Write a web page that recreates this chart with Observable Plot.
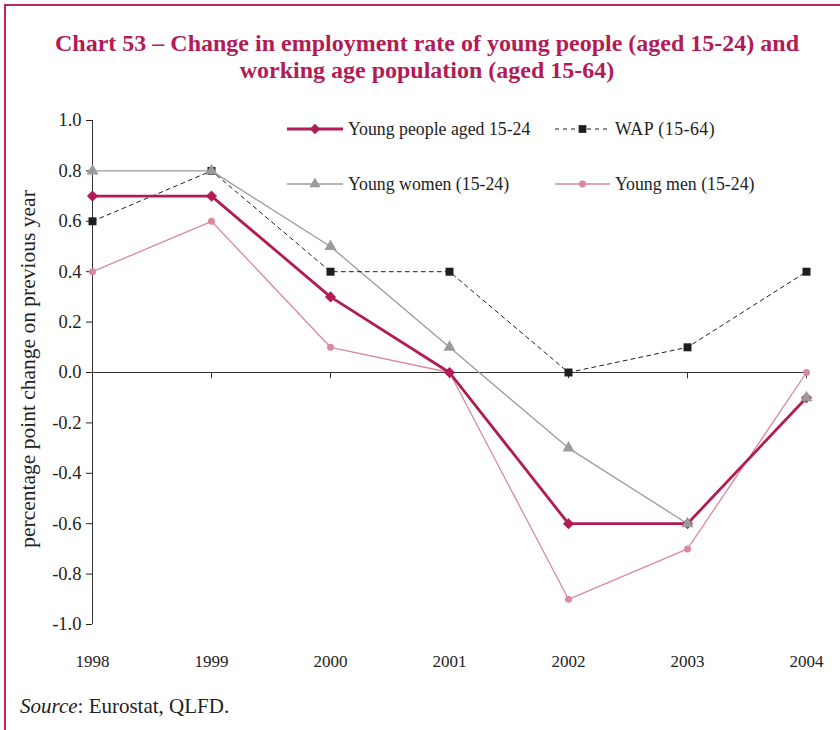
<!DOCTYPE html>
<html>
<head>
<meta charset="utf-8">
<script src="https://cdn.jsdelivr.net/npm/d3@7"></script>
<script src="https://cdn.jsdelivr.net/npm/@observablehq/plot@0.6"></script>
<style>
  html, body { margin: 0; padding: 0; background: #fff; }
  #page { position: relative; width: 840px; height: 730px; overflow: hidden; font-family: "Liberation Serif", "Times New Roman", serif; }
  #frameTop { position: absolute; left: 4px; top: 4px; width: 840px; height: 0; border-top: 2px solid #b8285e; }
  #frameLeft { position: absolute; left: 4px; top: 4px; width: 0; height: 730px; border-left: 2px solid #b8285e; }
  #title { position: absolute; left: 7px; top: 30px; width: 840px; text-align: center; color: #b31b55; font-weight: bold; font-size: 24px; line-height: 27px; }
  #chart { position: absolute; left: 0; top: 100px; }
  #ylabel { position: absolute; left: 28px; top: 369px; transform: translate(-50%, -50%) rotate(-90deg); white-space: nowrap; font-size: 21.5px; color: #222; }
  #source { position: absolute; left: 20px; top: 694px; font-size: 21px; color: #222; }
  .leg { position: absolute; display: flex; align-items: center; font-size: 17.8px; color: #222; white-space: nowrap; }
  .leg svg { margin-right: 5px; }
</style>
</head>
<body>
<div id="page">
  <div id="frameTop"></div>
  <div id="frameLeft"></div>
  <div id="title">Chart 53 – Change in employment rate of young people (aged 15-24) and<br>working age population (aged 15-64)</div>
  <div id="chart"></div>
  <div id="ylabel">percentage point change on previous year</div>
  <div id="source"><i>Source</i>: Eurostat, QLFD.</div>
  <div id="legend"></div>
</div>
<script>
const years = [1998, 1999, 2000, 2001, 2002, 2003, 2004];
const youngPeople = [0.7, 0.7, 0.3, 0.0, -0.6, -0.6, -0.1];
const wap = [0.6, 0.8, 0.4, 0.4, 0.0, 0.1, 0.4];
const youngWomen = [0.8, 0.8, 0.5, 0.1, -0.3, -0.6, -0.1];
const youngMen = [0.4, 0.6, 0.1, 0.0, -0.9, -0.7, 0.0];
const yTicks = [1.0, 0.8, 0.6, 0.4, 0.2, 0.0, -0.2, -0.4, -0.6, -0.8, -1.0];
const seriesNames = ["Young people aged 15-24", "WAP (15-64)", "Young women (15-24)", "Young men (15-24)"];

const rows = (vals) => years.map((y, i) => ({year: y, value: vals[i]}));
const dPeople = rows(youngPeople), dWap = rows(wap), dWomen = rows(youngWomen), dMen = rows(youngMen);

const C = {people: "#b31b55", wap: "#1e1e1e", women: "#9b9b9b", men: "#d98a9a"};
const font = "'Liberation Serif', 'Times New Roman', serif";

const plot = Plot.plot({
  width: 840,
  height: 580,
  marginTop: 20,
  marginBottom: 56,
  marginLeft: 92,
  marginRight: 34,
  style: {fontFamily: font, fontSize: "17px", color: "#222", background: "transparent"},
  x: {domain: [1998, 2004], label: null},
  y: {domain: [-1, 1], label: null},
  marks: [
    Plot.axisY({ticks: yTicks, tickFormat: d => d.toFixed(1), tickSize: 6, tickPadding: 5, label: null, fontSize: 18.5}),
    Plot.axisX({ticks: years, tickFormat: d => String(d), tickSize: 0, tickPadding: 30, label: null, fontSize: 17}),
    Plot.ruleX([1998], {stroke: "#333", strokeWidth: 1}),
    Plot.ruleY([0], {stroke: "#333", strokeWidth: 1}),
    Plot.ruleX(years.slice(1), {x: d => d, y1: 0, y2: -0.025, stroke: "#333", strokeWidth: 1}),
    Plot.line(dMen, {x: "year", y: "value", stroke: C.men, strokeWidth: 1.3}),
    Plot.dot(dMen, {x: "year", y: "value", fill: C.men, r: 3.5, symbol: "circle"}),
    Plot.line(dWomen, {x: "year", y: "value", stroke: C.women, strokeWidth: 1.3}),
    Plot.line(dWap, {x: "year", y: "value", stroke: C.wap, strokeWidth: 1, strokeDasharray: "4,4"}),
    Plot.dot(dWap, {x: "year", y: "value", fill: C.wap, r: 4.5, symbol: "square"}),
    Plot.line(dPeople, {x: "year", y: "value", stroke: C.people, strokeWidth: 2.8}),
    Plot.dot(dPeople, {x: "year", y: "value", fill: C.people, r: 5, symbol: "diamond2"}),
    Plot.dot(dWomen, {x: "year", y: "value", fill: C.women, r: 4.5, symbol: "triangle"})
  ]
});
document.getElementById("chart").appendChild(plot);

// Legend
const legendItems = [
  {name: seriesNames[0], left: 287, top: 129, w: 56, color: C.people, sw: 2.8, dash: null, marker: "diamond", ls: 0},
  {name: seriesNames[1], left: 555, top: 129, w: 55, color: C.wap, sw: 1, dash: "4,4", marker: "square", ls: 0.5},
  {name: seriesNames[2], left: 287, top: 184, w: 56, color: C.women, sw: 1.3, dash: null, marker: "triangle", ls: 0},
  {name: seriesNames[3], left: 555, top: 184, w: 55, color: C.men, sw: 1.3, dash: null, marker: "circle", ls: 0}
];
const symMap = {diamond: d3.symbolDiamond2, square: d3.symbolSquare, triangle: d3.symbolTriangle, circle: d3.symbolCircle};
const symSize = {diamond: 70, square: 60, triangle: 55, circle: 38};
const leg = document.getElementById("legend");
for (const it of legendItems) {
  const div = document.createElement("div");
  div.className = "leg";
  div.style.left = it.left + "px";
  div.style.top = (it.top - 10) + "px";
  div.style.height = "20px";
  const svg = d3.create("svg").attr("width", it.w).attr("height", 20);
  svg.append("line").attr("x1", 0).attr("x2", it.w).attr("y1", 10).attr("y2", 10)
    .attr("stroke", it.color).attr("stroke-width", it.sw).attr("stroke-dasharray", it.dash);
  svg.append("path").attr("d", d3.symbol(symMap[it.marker], symSize[it.marker])())
    .attr("transform", `translate(${it.w / 2},10)`).attr("fill", it.color);
  div.appendChild(svg.node());
  const span = document.createElement("span");
  span.textContent = it.name;
  span.style.letterSpacing = it.ls + "px";
  div.appendChild(span);
  leg.appendChild(div);
}
</script>
</body>
</html>
